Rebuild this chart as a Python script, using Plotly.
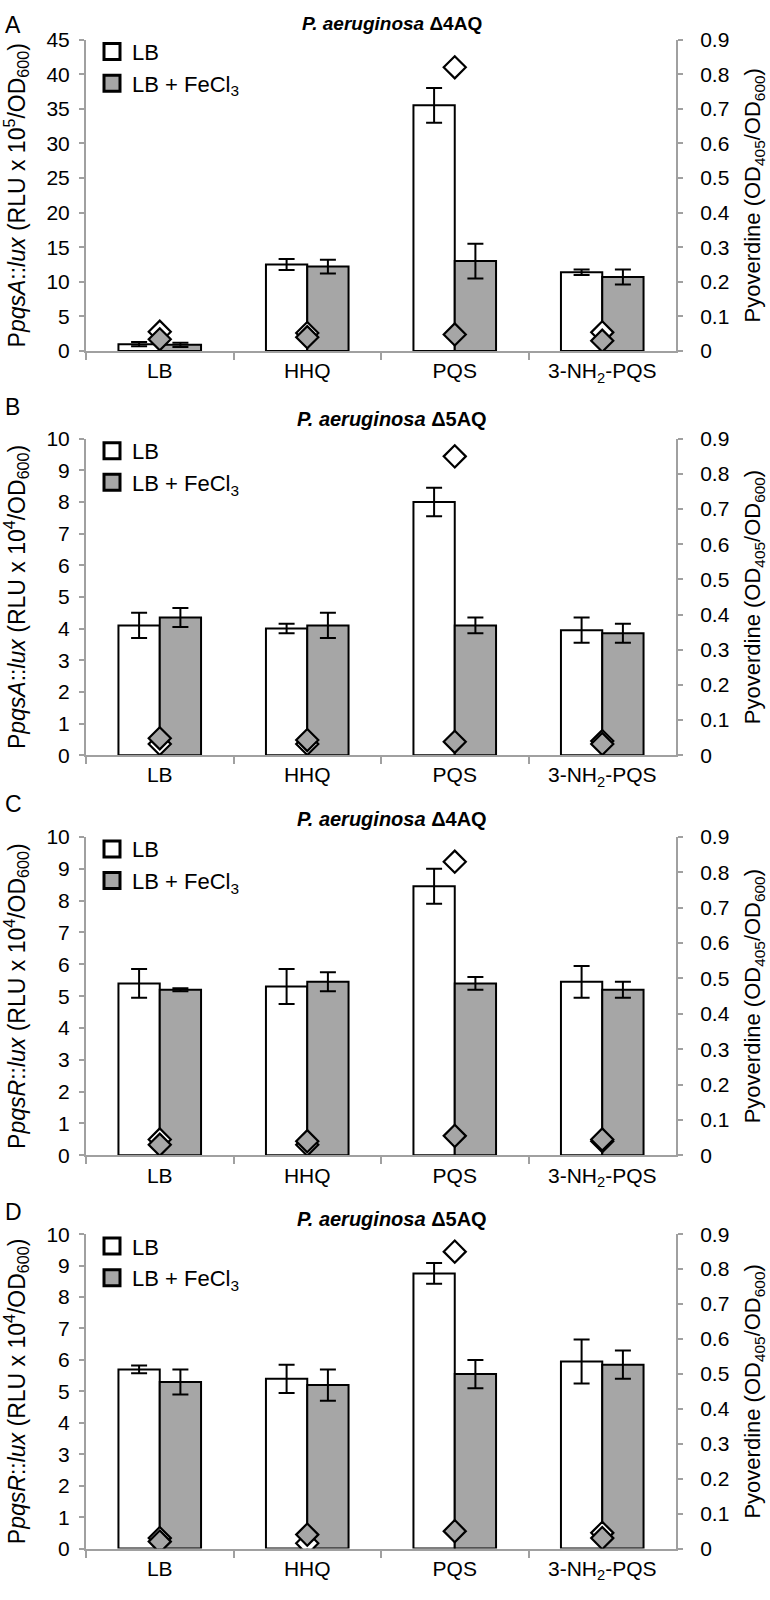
import plotly.graph_objects as go

# ---------------- data ----------------
categories = ["LB", "HHQ", "PQS", "3-NH<sub>2</sub>-PQS"]

# Panel A: PpqsA::lux, P. aeruginosa Δ4AQ (RLU x 10^5/OD600)
a_lb = [1.0, 12.5, 35.5, 11.4]
a_lb_err = [0.3, 0.8, 2.5, 0.4]
a_fe = [0.9, 12.2, 13.0, 10.7]
a_fe_err = [0.3, 1.0, 2.5, 1.1]
a_pvd_lb = [0.056, 0.052, 0.82, 0.054]
a_pvd_fe = [0.034, 0.040, 0.048, 0.030]

# Panel B: PpqsA::lux, P. aeruginosa Δ5AQ (RLU x 10^4/OD600)
b_lb = [4.1, 4.0, 8.0, 3.95]
b_lb_err = [0.4, 0.15, 0.45, 0.4]
b_fe = [4.35, 4.1, 4.1, 3.85]
b_fe_err = [0.3, 0.4, 0.25, 0.3]
b_pvd_lb = [0.032, 0.032, 0.85, 0.040]
b_pvd_fe = [0.048, 0.043, 0.038, 0.032]

# Panel C: PpqsR::lux, P. aeruginosa Δ4AQ (RLU x 10^4/OD600)
c_lb = [5.4, 5.3, 8.45, 5.45]
c_lb_err = [0.45, 0.55, 0.55, 0.5]
c_fe = [5.2, 5.45, 5.4, 5.2]
c_fe_err = [0.05, 0.3, 0.2, 0.25]
c_pvd_lb = [0.045, 0.030, 0.83, 0.040]
c_pvd_fe = [0.030, 0.040, 0.055, 0.045]

# Panel D: PpqsR::lux, P. aeruginosa Δ5AQ (RLU x 10^4/OD600)
d_lb = [5.7, 5.4, 8.75, 5.95]
d_lb_err = [0.12, 0.45, 0.33, 0.7]
d_fe = [5.3, 5.2, 5.55, 5.85]
d_fe_err = [0.4, 0.5, 0.45, 0.45]
d_pvd_lb = [0.030, 0.015, 0.85, 0.045]
d_pvd_fe = [0.020, 0.040, 0.050, 0.030]

panel_letters = ["A", "B", "C", "D"]
panel_strains = ["Δ4AQ", "Δ5AQ", "Δ4AQ", "Δ5AQ"]
left_titles = [
    "P<i>pqsA</i>::<i>lux</i> (RLU x 10<sup>5</sup>/OD<sub>600</sub>)",
    "P<i>pqsA</i>::<i>lux</i> (RLU x 10<sup>4</sup>/OD<sub>600</sub>)",
    "P<i>pqsR</i>::<i>lux</i> (RLU x 10<sup>4</sup>/OD<sub>600</sub>)",
    "P<i>pqsR</i>::<i>lux</i> (RLU x 10<sup>4</sup>/OD<sub>600</sub>)",
]
right_title = "Pyoverdine (OD<sub>405</sub>/OD<sub>600</sub>)"
left_ranges = [(0, 45, 5), (0, 10, 1), (0, 10, 1), (0, 10, 1)]
right_range = (0, 0.9, 0.1)
series_names = ["LB", "LB + FeCl<sub>3</sub>"]

panels = [
    (a_lb, a_lb_err, a_fe, a_fe_err, a_pvd_lb, a_pvd_fe),
    (b_lb, b_lb_err, b_fe, b_fe_err, b_pvd_lb, b_pvd_fe),
    (c_lb, c_lb_err, c_fe, c_fe_err, c_pvd_lb, c_pvd_fe),
    (d_lb, d_lb_err, d_fe, d_fe_err, d_pvd_lb, d_pvd_fe),
]

# ---------------- layout geometry (pixels) ----------------
W, H = 770, 1600
x_left, x_right = 86, 676
panel_px = [(28, 344), (433, 754), (837, 1160), (1240, 1559)]  # (top, bottom) of plot areas
letter_y = [13, 401, 804, 1217]
title_y = [12, 413, 819, 1225]
title_sizes = [19, 20, 20, 20]

WHITE = "#ffffff"
GRAY = "#a6a6a6"
AXIS = "#a0a0a0"
FONT = "Liberation Sans, Arial, sans-serif"

fig = go.Figure()
layout = dict(
    width=W, height=H,
    margin=dict(l=0, r=0, t=0, b=0),
    paper_bgcolor="white", plot_bgcolor="white",
    barmode="group", bargap=0.44, bargroupgap=0.0,
    showlegend=True,
    annotations=[],
)

for i, (lb, lb_err, fe, fe_err, pv_lb, pv_fe) in enumerate(panels):
    xa = f"x{i+1}" if i else "x"
    ya = f"y{2*i+1}" if i else "y"
    ya2 = f"y{2*i+2}"
    leg = "legend" if i == 0 else f"legend{i+1}"
    top, bot = panel_px[i]
    ydom = [1 - bot / H, 1 - top / H]

    for vals, errs, col, name in [(lb, lb_err, WHITE, series_names[0]), (fe, fe_err, GRAY, series_names[1])]:
        fig.add_trace(go.Bar(
            x=categories, y=vals, name=name, xaxis=xa, yaxis=ya,
            marker=dict(color=col, line=dict(color="black", width=2)),
            error_y=dict(type="data", array=errs, color="black", thickness=2, width=8),
            showlegend=False,
        ))
    for vals, col in [(pv_lb, WHITE), (pv_fe, GRAY)]:
        fig.add_trace(go.Scatter(
            x=categories, y=vals, xaxis=xa, yaxis=ya2, mode="markers",
            marker=dict(symbol="diamond", size=17, color=col, line=dict(color="black", width=2.2)),
            showlegend=False,
        ))
    # legend entries
    for col, name in [(WHITE, series_names[0]), (GRAY, series_names[1])]:
        fig.add_trace(go.Scatter(
            x=[None], y=[None], xaxis=xa, yaxis=ya, mode="markers", name=name,
            legend=leg, legendgroup=f"{leg}{name}",
            marker=dict(symbol="square", size=16, color=col, line=dict(color="black", width=3)),
        ))

    layout[leg] = dict(
        x=92 / W, y=1 - (top - 9) / H, xanchor="left", yanchor="top",
        bgcolor="rgba(0,0,0,0)", font=dict(family=FONT, size=22, color="black"),
        itemsizing="trace", tracegroupgap=0, itemwidth=30,
    )

    xkey = "xaxis" if i == 0 else f"xaxis{i+1}"
    ykey = "yaxis" if i == 0 else f"yaxis{2*i+1}"
    y2key = f"yaxis{2*i+2}"
    layout[xkey] = dict(
        domain=[x_left / W, x_right / W], anchor=ya,
        showline=True, linecolor=AXIS, linewidth=2,
        ticks="outside", tickson="boundaries", ticklen=7, tickcolor=AXIS, tickwidth=2,
        tickfont=dict(family=FONT, size=21, color="black"),
        showgrid=False, zeroline=False,
    )
    lo, hi, dt = left_ranges[i]
    layout[ykey] = dict(
        domain=ydom, anchor=xa, range=[lo, hi], dtick=dt, tick0=0,
        showline=True, linecolor=AXIS, linewidth=2,
        ticks="outside", ticklen=5, tickcolor=AXIS, tickwidth=2, ticklabelstandoff=5,
        tickfont=dict(family=FONT, size=21, color="black"),
        showgrid=False, zeroline=False,
        title=dict(text=left_titles[i], font=dict(family=FONT, size=23, color="black"), standoff=24),
    )
    rlo, rhi, rdt = right_range
    layout[y2key] = dict(
        overlaying=ya, side="right", anchor=xa, range=[rlo, rhi], dtick=rdt, tick0=0,
        showline=True, linecolor=AXIS, linewidth=2,
        ticks="outside", ticklen=5, tickcolor=AXIS, tickwidth=2, ticklabelstandoff=13,
        tickfont=dict(family=FONT, size=21, color="black"),
        showgrid=False, zeroline=False,
        title=dict(text=right_title, font=dict(family=FONT, size=22, color="black"), standoff=16),
    )

    layout["annotations"].append(dict(
        text=panel_letters[i], xref="paper", yref="paper", x=3 / W, y=1 - letter_y[i] / H,
        xanchor="left", yanchor="middle", showarrow=False,
        font=dict(family=FONT, size=23, color="black"),
    ))
    layout["annotations"].append(dict(
        text=f"<b><i>P. aeruginosa</i> {panel_strains[i]}</b>", xref="paper", yref="paper",
        x=392 / W, y=1 - title_y[i] / H, xanchor="center", yanchor="middle",
        showarrow=False, font=dict(family=FONT, size=title_sizes[i], color="black"),
    ))

fig.update_layout(**layout)
# remove the browser's default 8px page margin so the figure sits at the window's corner
fig.write_html("out.html", config={"displayModeBar": False},
               post_script="document.body.style.margin='0';")
